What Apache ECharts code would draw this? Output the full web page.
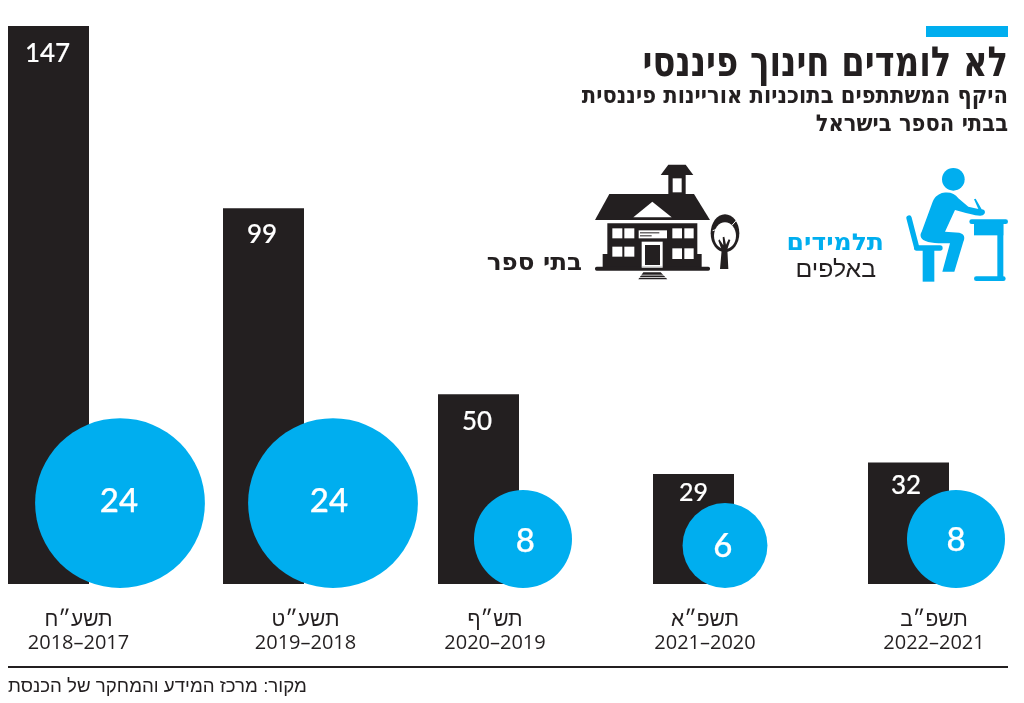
<!DOCTYPE html>
<html><head><meta charset="utf-8">
<script src="https://cdn.jsdelivr.net/npm/echarts@6/dist/echarts.min.js"></script>
<style>html,body{margin:0;padding:0;background:#fff}#c{width:1024px;height:703px}</style>
</head><body><div id="c"></div>
<script>
const yearsHe = ['תשע״ח','תשע״ט','תש״ף','תשפ״א','תשפ״ב'];
const yearsCe = ['2018–2017','2019–2018','2020–2019','2021–2020','2022–2021'];
const students = [147,99,50,29,32];
const schools = [24,24,8,6,8];

const titleText = 'לא לומדים חינוך פיננסי';
const subtitleText = 'היקף המשתתפים בתוכניות אוריינות פיננסית\nבבתי הספר בישראל';
const sourceText = 'מקור: מרכז המידע והמחקר של הכנסת';

const BLACK='#231f20', BLUE='#00aeef';
const HE='"Liberation Sans","DejaVu Sans",sans-serif';
const HEAVY='"DejaVu Sans",sans-serif';
const NUM='Lato,sans-serif';
// layout tweaks (pixels) per category
const axisDx=[30,42,16.5,11.5,25.5];
const circleDx=[71.5,69.5,44.5,31.5,47.5];
const barLabelTop=[15,13,14,6.5,10], barLabelDx=[-1,-1.5,-1.5,0,-2.5], barLabelSize=[26,26,26,25,26];
const circleLabelOff=[[-1,-2],[-4,-2],[2.4,2],[-2.3,1],[0,1]];
const radius=v=>17.33*Math.sqrt(v);

echarts.graphic.registerShape('studentBody',echarts.graphic.extendPath('M130 98 C150 95 165 100 175 115 L205 140 L235 147 L222 118 L227 116 L245 148 C257 148 258 162 248 166 C235 170 200 160 165 150 L135 215 L178 218 C195 222 195 235 190 245 L163 335 L127 335 L150 250 C120 250 85 250 70 240 C60 232 60 222 65 215 L98 125 C105 108 118 100 130 98 Z',{}));

const chart=echarts.init(document.getElementById('c'),null,{renderer:'canvas'});
const studentIcon={type:'group',x:900,y:160,scaleX:1/3,scaleY:1/3,silent:true,children:[
 {type:'circle',shape:{cx:160,cy:58,r:34},style:{fill:BLUE}},
 {type:'studentBody',style:{fill:BLUE}},
 {type:'line',shape:{x1:27,y1:174,x2:50,y2:262},style:{stroke:BLUE,lineWidth:16,lineCap:'round'}},
 {type:'line',shape:{x1:50,y1:264,x2:120,y2:264},style:{stroke:BLUE,lineWidth:16,lineCap:'round'}},
 {type:'rect',shape:{x:68,y:265,width:35,height:100},style:{fill:BLUE}},
 {type:'line',shape:{x1:215,y1:185,x2:317,y2:185},style:{stroke:BLUE,lineWidth:14,lineCap:'round'}},
 {type:'rect',shape:{x:222,y:185,width:88,height:41},style:{fill:BLUE}},
 {type:'rect',shape:{x:292,y:185,width:18,height:177},style:{fill:BLUE}},
 {type:'line',shape:{x1:229,y1:356,x2:310,y2:356},style:{stroke:BLUE,lineWidth:14,lineCap:'round'}}
]};
const w=(x,y,wd,h)=>({type:'rect',shape:{x,y,width:wd,height:h},style:{fill:'#fff'}});
const k=(x,y,wd,h)=>({type:'rect',shape:{x,y,width:wd,height:h},style:{fill:BLACK}});
const schoolIcon={type:'group',x:590,y:160,scaleX:1/3,scaleY:1/3,silent:true,children:[
 {type:'polygon',shape:{points:[[235,14],[287,14],[310,45],[212,45]]},style:{fill:BLACK}},
 k(235,45,52,58), w(248,55,27,42),
 {type:'polygon',shape:{points:[[58,102],[312,102],[360,180],[15,180]]},style:{fill:BLACK}},
 {type:'polygon',shape:{points:[[130,172],[187,125],[245,172]]},style:{fill:'#fff'}},
 k(52,190,270,130),
 k(38,282,297,40),
 w(67,205,30,30),w(103,205,30,30),w(67,260,30,30),w(103,260,30,30),
 w(247,205,29,30),w(283,205,28,30),w(247,265,29,32),w(283,265,28,32),
 w(146,211,85,24),k(150,217,58,3),k(150,226,35,3),
 w(155,245,63,78),k(165,255,45,60),
 {type:'rect',shape:{x:15,y:320,width:345,height:12,r:5},style:{fill:BLACK}},
 w(155,320,63,3),
 {type:'polygon',shape:{points:[[160,337],[212,337],[232,358],[145,358]]},style:{fill:BLACK}},
 w(140,344,100,2.5),w(140,351,100,2.5),
 {type:'ellipse',shape:{cx:405,cy:220,rx:43,ry:57},style:{fill:BLACK}},
 {type:'ellipse',shape:{cx:405,cy:227,rx:33,ry:40},style:{fill:'#fff'}},
 {type:'polygon',shape:{points:[[390,327],[415,327],[412,268],[421,240],[416,238],[408,254],[403,230],[398,232],[400,256],[388,238],[385,242],[395,270]]},style:{fill:BLACK}},
 {type:'line',shape:{x1:425,y1:197,x2:440,y2:180},style:{stroke:'#fff',lineWidth:3}},
 {type:'line',shape:{x1:368,y1:212,x2:380,y2:208},style:{stroke:'#fff',lineWidth:3}}
]};
const T=(x,y,t,size,weight,fill,fam,sx,sy)=>({type:'text',x,y,scaleX:sx||1,scaleY:sy||1,silent:true,style:{text:t,font:`${weight} ${size}px ${fam}`,fill,textAlign:'right',textVerticalAlign:'middle'}});

chart.setOption({
 animation:false,
 backgroundColor:'#fff',
 textStyle:{fontFamily:HE},
 grid:{left:48.5,top:26,width:860,height:558,containLabel:false},
 xAxis:{type:'category',boundaryGap:false,
  data:yearsHe.map((y,i)=>({value:y,textStyle:{padding:[0,0,0,2*axisDx[i]]}})),
  axisLine:{show:false},axisTick:{show:false},splitLine:{show:false},
  axisLabel:{interval:0,margin:25,hideOverlap:false,showMinLabel:true,showMaxLabel:true,
   formatter:(v,i)=>`{a|${v}}\n{b|${yearsCe[i]}}`,
   rich:{a:{fontFamily:HE,fontSize:21,lineHeight:23,color:BLACK},b:{fontFamily:'"Open Sans",'+HE,fontSize:20,lineHeight:23,color:BLACK}}}},
 yAxis:{type:'value',min:0,max:147,show:false,splitLine:{show:false}},
 series:[
  {name:'תלמידים',type:'bar',barWidth:81,z:2,clip:false,
   itemStyle:{color:BLACK},
   data:students.map((v,i)=>({value:v,label:{show:true,position:'insideTop',distance:barLabelTop[i],offset:[barLabelDx[i],0],fontSize:barLabelSize[i],fontFamily:NUM,fontWeight:500,color:'#fff',textBorderColor:'#fff',textBorderWidth:0.15}}))},
  {name:'בתי ספר',type:'scatter',z:3,clip:false,
   itemStyle:{color:BLUE,opacity:1},
   data:schools.map((v,i)=>({value:[i,0,v],symbol:'circle',symbolSize:2*radius(v),symbolOffset:[circleDx[i],4-radius(v)],
     label:{show:true,position:'inside',offset:circleLabelOff[i],formatter:String(v),fontSize:33,fontFamily:NUM,fontWeight:500,color:'#fff',textBorderColor:'#fff',textBorderWidth:0.25}}))}
 ],
 graphic:[
  {type:'rect',x:926,y:26,shape:{width:82,height:11},style:{fill:BLUE},silent:true},
  T(1008,65,titleText,33.8,'bold',BLACK,HEAVY,1,1.22),
  T(1008,97,subtitleText.split('\n')[0],21.1,'bold',BLACK,HEAVY,1,1.1),
  T(1008,124.5,subtitleText.split('\n')[1],21.1,'bold',BLACK,HEAVY,1,1.1),
  studentIcon,schoolIcon,
  T(884,244,'תלמידים',23,'bold',BLUE,HEAVY,1.09,1),
  T(876,271,'באלפים',23,'normal',BLACK,HE,1.08,1),
  T(582,264,'בתי ספר',23,'bold',BLACK,HEAVY,1.07,1),
  {type:'rect',x:8,y:666,shape:{width:1000,height:2},style:{fill:BLACK},silent:true},
  {type:'text',x:8,y:677,silent:true,style:{text:sourceText,font:`18.7px ${HE}`,fill:BLACK,textAlign:'left'}}
 ]
});
</script></body></html>
